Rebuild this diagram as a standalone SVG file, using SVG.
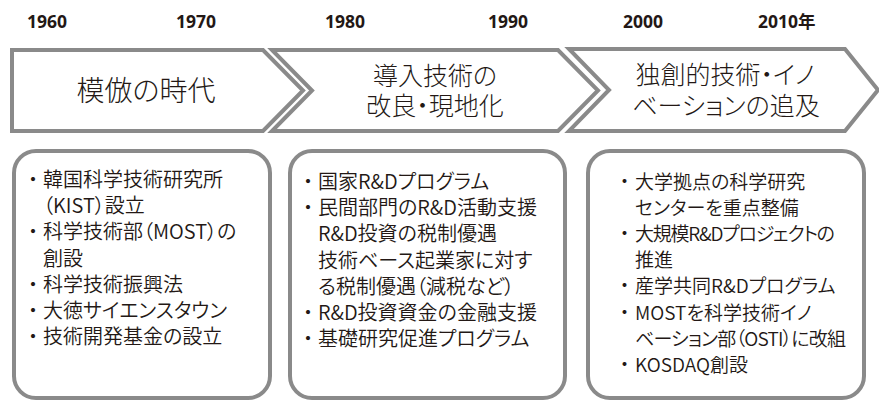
<svg xmlns="http://www.w3.org/2000/svg" width="879" height="401" viewBox="0 0 879 401">
<style>
.yr{font-family:"Open Sans","Noto Sans CJK JP",sans-serif;font-weight:700;font-size:17.5px;fill:#231815}
.ar{fill:#fff;stroke:#8a8a8a;stroke-width:4}
.bx{fill:#fff;stroke:#8a8a8a;stroke-width:4}
.ti{font-family:"Noto Sans CJK JP",sans-serif;font-weight:300;font-size:25px;fill:#231815;text-anchor:middle;font-feature-settings:"palt"}
.tx{font-family:"Noto Sans CJK JP",sans-serif;font-weight:350;font-size:20px;fill:#231815;font-feature-settings:"palt"}
.s19{font-size:19px}
.bl{font-feature-settings:normal}
</style>
<g id="years">
<text class="yr" x="27" y="28">1960</text>
<text class="yr" x="176" y="28">1970</text>
<text class="yr" x="325" y="28">1980</text>
<text class="yr" x="488" y="28">1990</text>
<text class="yr" x="623" y="28">2000</text>
<text class="yr" x="758" y="28">2010年</text>
</g>
<g id="era1">
<path class="ar" d="M12,50 L263,50 L303,90.5 L263,131 L12,131 Z"/>
<text class="ti" x="146" y="101" style="font-size:28px">模倣の時代</text>
</g>
<g id="era2">
<path class="ar" d="M272,50 L558,50 L598,90.5 L558,131 L272,131 L312,90.5 Z"/>
<text class="ti" x="435" y="85">導入技術の</text>
<text class="ti" x="435" y="115">改良・現地化</text>
</g>
<g id="era3">
<path class="ar" d="M569,49 L845,49 L878,90 L845,131 L569,131 L609,90 Z"/>
<text class="ti" x="725" y="84">独創的技術・イノ</text>
<text class="ti" x="726" y="115">ベーションの追及</text>
</g>
<g id="box1">
<rect class="bx" x="14" y="151" width="256" height="247" rx="22"/>
<text class="tx" y="187"><tspan class="bl" x="23">・</tspan><tspan x="43">韓国科学技術研究所</tspan></text>
<text class="tx" x="43" y="213.2">（KIST）設立</text>
<text class="tx" y="239.4"><tspan class="bl" x="23">・</tspan><tspan x="43">科学技術部（MOST）の</tspan></text>
<text class="tx" x="43" y="265.6">創設</text>
<text class="tx" y="291.8"><tspan class="bl" x="23">・</tspan><tspan x="43">科学技術振興法</tspan></text>
<text class="tx" y="318"><tspan class="bl" x="23">・</tspan><tspan x="43">大徳サイエンスタウン</tspan></text>
<text class="tx" y="344.2"><tspan class="bl" x="23">・</tspan><tspan x="43">技術開発基金の設立</tspan></text>
</g>
<g id="box2">
<rect class="bx" x="290" y="151" width="275" height="247" rx="22"/>
<text class="tx" y="189"><tspan class="bl" x="298">・</tspan><tspan x="318">国家R&amp;Dプログラム</tspan></text>
<text class="tx" y="215.2"><tspan class="bl" x="298">・</tspan><tspan x="318">民間部門のR&amp;D活動支援</tspan></text>
<text class="tx" x="318" y="241.4">R&amp;D投資の税制優遇</text>
<text class="tx" x="318" y="267.6">技術ベース起業家に対す</text>
<text class="tx" x="318" y="293.8">る税制優遇（減税など）</text>
<text class="tx" y="320"><tspan class="bl" x="298">・</tspan><tspan x="318">R&amp;D投資資金の金融支援</tspan></text>
<text class="tx" y="346.2"><tspan class="bl" x="298">・</tspan><tspan x="318">基礎研究促進プログラム</tspan></text>
</g>
<g id="box3">
<rect class="bx" x="588" y="151" width="276" height="247" rx="22"/>
<text class="tx s19" y="189"><tspan class="bl" x="615">・</tspan><tspan x="635">大学拠点の科学研究</tspan></text>
<text class="tx s19" x="635" y="215.1">センターを重点整備</text>
<text class="tx s19" y="241.2"><tspan class="bl" x="615">・</tspan><tspan x="635" textLength="200">大規模R&amp;Dプロジェクトの</tspan></text>
<text class="tx s19" x="635" y="267.3">推進</text>
<text class="tx s19" y="293.4"><tspan class="bl" x="615">・</tspan><tspan x="635">産学共同R&amp;Dプログラム</tspan></text>
<text class="tx s19" y="319.5"><tspan class="bl" x="615">・</tspan><tspan x="635">MOSTを科学技術イノ</tspan></text>
<text class="tx s19" x="635" y="345.6" textLength="211">ベーション部（OSTI）に改組</text>
<text class="tx s19" y="371.7"><tspan class="bl" x="615">・</tspan><tspan x="635">KOSDAQ創設</tspan></text>
</g>
<g id="connectors"></g>
</svg>
